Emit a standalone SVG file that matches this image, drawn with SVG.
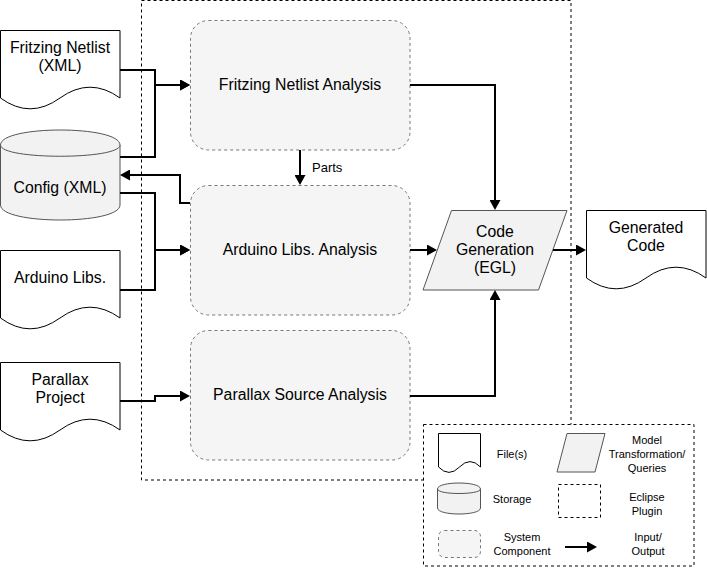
<svg xmlns="http://www.w3.org/2000/svg" width="707" height="577" viewBox="0 0 707 577">
<defs>
<style>
text{font-family:"Liberation Sans",Arial,Helvetica,sans-serif;fill:#000;text-anchor:middle}
.t15{font-size:15.8px}
.t13{font-size:13px}
.t11{font-size:11px}
.doc{fill:#fff;stroke:#000;stroke-width:1}
.cyl{fill:#f2f2f2;stroke:#555;stroke-width:1}
.comp{fill:#f5f5f5;stroke:#777;stroke-width:1;stroke-dasharray:3 3}
.para{fill:#f2f2f2;stroke:#555;stroke-width:1}
.plugin{fill:none;stroke:#000;stroke-width:1;stroke-dasharray:3 3}
.edge{fill:none;stroke:#000;stroke-width:2;marker-end:url(#arr)}
</style>
<marker id="arr" viewBox="0 0 10 11" refX="2" refY="5.5" markerWidth="10" markerHeight="11" markerUnits="userSpaceOnUse" orient="auto">
<path d="M0,0 L10,5.5 L0,11 Z" fill="#000"/>
</marker>
</defs>
<rect x="0" y="0" width="707" height="577" fill="#fff"/>

<g id="eclipse-plugin">
<rect class="plugin" x="141.5" y="0.5" width="429.5" height="479.5"/>
</g>

<g id="fritzing-analysis">
<rect class="comp" x="190.5" y="20.5" width="219.5" height="129.5" rx="18" ry="18"/>
<text class="t15" x="300" y="90">Fritzing Netlist Analysis</text>
</g>
<g id="arduino-analysis">
<rect class="comp" x="190.5" y="185.5" width="219.5" height="129.5" rx="18" ry="18"/>
<text class="t15" x="300" y="255">Arduino Libs. Analysis</text>
</g>
<g id="parallax-analysis">
<rect class="comp" x="190.5" y="330.5" width="219.5" height="129.5" rx="18" ry="18"/>
<text class="t15" x="300" y="400">Parallax Source Analysis</text>
</g>

<g id="fritzing-netlist">
<path class="doc" d="M0.5,30.5 H120 V98 Q90,76.4 60,98 Q30,119.6 0.5,98 Z"/>
<text class="t15" x="60" y="53">Fritzing Netlist</text>
<text class="t15" x="60" y="71">(XML)</text>
</g>
<g id="config">
<path class="cyl" d="M0.5,145 C0.5,125 120,125 120,145 V205 C120,225 0.5,225 0.5,205 Z"/>
<path class="cyl" fill="none" d="M0.5,145 C0.5,160 120,160 120,145"/>
<text class="t15" x="60" y="193">Config (XML)</text>
</g>
<g id="arduino-libs">
<path class="doc" d="M0.5,250.5 H120 V318 Q90,296.4 60,318 Q30,339.6 0.5,318 Z"/>
<text class="t15" x="60" y="283">Arduino Libs.</text>
</g>
<g id="parallax-project">
<path class="doc" d="M0.5,362.5 H120 V430 Q90,408.4 60,430 Q30,451.6 0.5,430 Z"/>
<text class="t15" x="60" y="385">Parallax</text>
<text class="t15" x="60" y="403">Project</text>
</g>
<g id="code-generation">
<path class="para" d="M451.5,210.5 H567 L538.5,290 H423 Z"/>
<text class="t15" x="495" y="237">Code</text>
<text class="t15" x="495" y="255">Generation</text>
<text class="t15" x="495" y="273">(EGL)</text>
</g>
<g id="generated-code">
<path class="doc" d="M586.5,210.5 H706 V278 Q676,256.4 646,278 Q616,299.6 586.5,278 Z"/>
<text class="t15" x="646" y="233">Generated</text>
<text class="t15" x="646" y="251">Code</text>
</g>

<g id="connectors">
<path class="edge" d="M120,70 H155 V85 H182"/>
<path class="edge" d="M120,157 H155 V85 H182"/>
<path class="edge" d="M190,203 H180 V175 H128"/>
<path class="edge" d="M120,193 H155 V250 H182"/>
<path class="edge" d="M120,290 H155 V250 H182"/>
<path class="edge" d="M120,401 H155 V396 H182"/>
<path class="edge" d="M300,150 V177"/>
<text class="t13" x="312" y="172" style="text-anchor:start">Parts</text>
<path class="edge" d="M410,85 H495 V202"/>
<path class="edge" d="M410,250 H429"/>
<path class="edge" d="M410,396 H495 V298"/>
<path class="edge" d="M553,250 H578"/>
</g>

<g id="legend">
<rect x="423.5" y="424.5" width="270.5" height="141.5" fill="#fff" stroke="#000" stroke-width="1" stroke-dasharray="3 3"/>
<path class="doc" d="M438.5,433.5 H480.5 V467 Q470,456.2 459.5,467 Q449,477.8 438.5,467 Z"/>
<text class="t11" x="512" y="458">File(s)</text>
<path class="para" d="M567,433.5 H605 L595,472 H557 Z"/>
<text class="t11" x="647" y="444">Model</text>
<text class="t11" x="647" y="458">Transformation/</text>
<text class="t11" x="647" y="472">Queries</text>
<path class="cyl" d="M437.5,489 C437.5,481 480.5,481 480.5,489 V508 C480.5,516 437.5,516 437.5,508 Z"/>
<path class="cyl" fill="none" d="M437.5,489 C437.5,495 480.5,495 480.5,489"/>
<text class="t11" x="512" y="503">Storage</text>
<rect class="plugin" x="558.5" y="484.5" width="42" height="33"/>
<text class="t11" x="647" y="501">Eclipse</text>
<text class="t11" x="647" y="515">Plugin</text>
<rect class="comp" x="438.5" y="530.5" width="42" height="27" rx="6" ry="6"/>
<text class="t11" x="522" y="541">System</text>
<text class="t11" x="522" y="555">Component</text>
<path class="edge" d="M565,547 H589"/>
<text class="t11" x="648" y="541">Input/</text>
<text class="t11" x="648" y="555">Output</text>
</g>
</svg>
